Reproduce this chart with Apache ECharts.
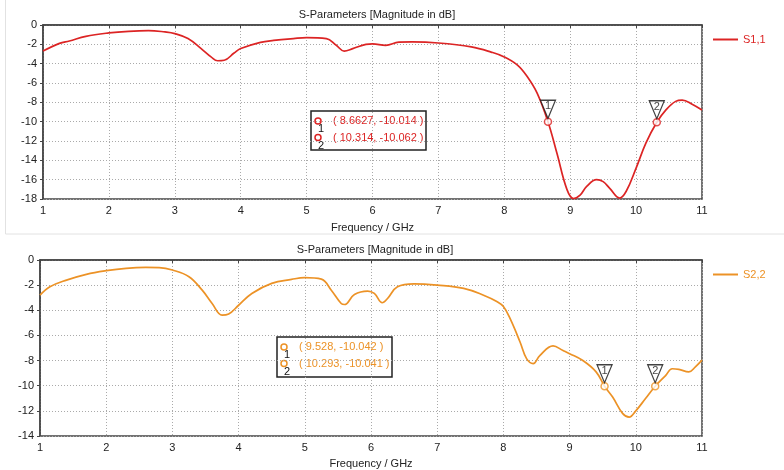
<!DOCTYPE html>
<html>
<head>
<meta charset="utf-8">
<script src="https://cdn.jsdelivr.net/npm/echarts@6/dist/echarts.min.js"></script>
<style>
  html, body { margin: 0; padding: 0; background: #fff; }
  #chart { width: 784px; height: 470px; }
</style>
</head>
<body>
<div id="chart"></div>
<script>
// S1,1 curve: [GHz, dB]
var s11 = [
  [1.0, -2.7], [1.25, -1.9], [1.4, -1.65], [1.65, -1.17], [2.0, -0.82], [2.3, -0.65],
  [2.6, -0.58], [2.85, -0.72], [3.0, -0.89], [3.2, -1.4], [3.4, -2.44], [3.55, -3.3],
  [3.65, -3.7], [3.75, -3.65], [3.9, -2.9], [4.0, -2.44], [4.3, -1.8], [4.5, -1.6],
  [4.8, -1.4], [5.0, -1.3], [5.3, -1.4], [5.45, -2.1], [5.57, -2.7], [5.7, -2.45],
  [5.9, -2.0], [6.0, -1.95], [6.2, -2.1], [6.4, -1.78], [6.6, -1.75], [7.0, -1.86],
  [7.5, -2.27], [7.8, -2.8], [8.0, -3.3], [8.2, -4.15], [8.35, -5.36], [8.5, -7.08],
  [8.6627, -10.014], [8.8, -13.3], [8.95, -17.0], [9.05, -17.95], [9.15, -17.6],
  [9.25, -16.7], [9.4, -16.0], [9.5, -16.2], [9.6, -16.9], [9.75, -17.9], [9.85, -17.2],
  [10.0, -14.8], [10.15, -12.2], [10.314, -10.062], [10.45, -8.8], [10.6, -7.9],
  [10.7, -7.77], [10.85, -8.2], [11.0, -8.8]
];
// S2,2 curve
var s22 = [
  [1.0, -2.8], [1.15, -2.13], [1.4, -1.6], [1.7, -1.14], [2.0, -0.85], [2.3, -0.66],
  [2.6, -0.59], [2.8, -0.61], [3.0, -0.8], [3.25, -1.33], [3.45, -2.4], [3.6, -3.46],
  [3.75, -4.39], [3.85, -4.3], [4.0, -3.6], [4.2, -2.66], [4.5, -1.86], [4.8, -1.54],
  [5.0, -1.4], [5.25, -1.52], [5.4, -2.4], [5.55, -3.46], [5.6, -3.54], [5.75, -2.74],
  [5.95, -2.47], [6.05, -2.66], [6.17, -3.4], [6.25, -3.06], [6.4, -2.13], [6.65, -1.9],
  [7.0, -2.0], [7.4, -2.26], [7.7, -2.8], [7.9, -3.3], [8.0, -3.7], [8.1, -4.65],
  [8.25, -6.5], [8.35, -7.85], [8.45, -8.25], [8.55, -7.6], [8.75, -6.83], [8.9, -7.2],
  [9.0, -7.45], [9.2, -8.0], [9.4, -8.9], [9.528, -10.042], [9.65, -10.9], [9.8, -12.2],
  [9.9, -12.5], [10.0, -12.0], [10.15, -11.0], [10.293, -10.041], [10.45, -9.2],
  [10.55, -8.65], [10.65, -8.7], [10.8, -8.9], [10.9, -8.5], [11.0, -7.97]
];
// markers
var markers11 = [[8.6627, -10.014], [10.314, -10.062]];
var markers22 = [[9.528, -10.042], [10.293, -10.041]];

var redColor = '#dc2424';
var orangeColor = '#ec9226';
var font = 'Liberation Sans, Arial, sans-serif';

function xAx(idx, gap) {
  return {
    type: 'value', gridIndex: idx, min: 1, max: 11, interval: 1,
    name: 'Frequency / GHz', nameLocation: 'middle', nameGap: gap,
    nameTextStyle: { color: '#222', fontSize: 11, fontFamily: font },
    axisLine: { lineStyle: { color: '#444', width: 1.5 } },
    axisTick: { show: true, length: 3, lineStyle: { color: '#444' } },
    axisLabel: { color: '#222', fontSize: 11, fontFamily: font, margin: 6 },
    splitLine: { show: true, lineStyle: { color: '#aaa', type: [1, 2] } }
  };
}
function yAx(idx, min) {
  return {
    type: 'value', gridIndex: idx, min: min, max: 0, interval: 2,
    axisLine: { show: true, lineStyle: { color: '#444', width: 1.5 } },
    axisTick: { show: true, length: 3, lineStyle: { color: '#444' } },
    axisLabel: { color: '#222', fontSize: 11, fontFamily: font, margin: 6 },
    splitLine: { show: true, lineStyle: { color: '#aaa', type: [1, 2] } }
  };
}

function markerSeries(data, color, idx) {
  return [{
    type: 'scatter', xAxisIndex: idx, yAxisIndex: idx, data: data, z: 5,
    symbol: 'circle', symbolSize: 7, silent: true,
    itemStyle: { color: '#fff', borderColor: color, borderWidth: 1.5 }
  }, {
    type: 'scatter', xAxisIndex: idx, yAxisIndex: idx, data: data, z: 6,
    symbol: 'path://M0,0 L14,0 L7,16 Z', symbolSize: [15, 18], symbolOffset: [0, -12.5],
    silent: true,
    itemStyle: { color: '#fff', borderColor: '#111', borderWidth: 1.3 },
    label: {
      show: true, position: 'inside', offset: [0, -3], color: '#111', fontSize: 11, fontFamily: font,
      formatter: function (p) { return String(p.dataIndex + 1); }
    }
  }];
}

// marker read-out box
function markerBox(data, color, x, y, w, h) {
  var children = [{
    type: 'rect', shape: { x: x, y: y, width: w, height: h },
    style: { fill: '#fff', stroke: '#222', lineWidth: 1.5 }
  }];
  for (var i = 0; i < data.length; i++) {
    var ty = y + 10 + i * 16.5;
    children.push({
      type: 'circle', shape: { cx: x + 7, cy: ty, r: 3 },
      style: { fill: '#fff', stroke: color, lineWidth: 1.5 }
    });
    children.push({
      type: 'text', x: x + 10, y: ty + 8,
      style: { text: String(i + 1), fill: '#111', font: '11px ' + font, align: 'center', verticalAlign: 'middle' }
    });
    children.push({
      type: 'text', x: x + 22, y: ty,
      style: { text: '( ' + data[i][0] + ', ' + data[i][1] + ' )', fill: color, font: '11px ' + font, verticalAlign: 'middle' }
    });
  }
  return { type: 'group', children: children };
}

var chart = echarts.init(document.getElementById('chart'));
var option = {
  backgroundColor: '#fff',
  animation: false,
  title: [
    { text: 'S-Parameters [Magnitude in dB]', left: 372, top: 4, textAlign: 'center',
      textStyle: { color: '#222', fontSize: 11, fontWeight: 'normal', fontFamily: font } },
    { text: 'S-Parameters [Magnitude in dB]', left: 370, top: 239, textAlign: 'center',
      textStyle: { color: '#222', fontSize: 11, fontWeight: 'normal', fontFamily: font } }
  ],
  legend: [
    { data: ['S1,1'], left: 708, top: 29, icon: 'rect', itemWidth: 25, itemHeight: 2, itemGap: 5,
      textStyle: { color: redColor, fontSize: 11, fontFamily: font } },
    { data: ['S2,2'], left: 708, top: 264, icon: 'rect', itemWidth: 25, itemHeight: 2, itemGap: 5,
      textStyle: { color: orangeColor, fontSize: 11, fontFamily: font } }
  ],
  grid: [
    { left: 43, top: 25, width: 659, height: 174, show: true, borderColor: '#444', borderWidth: 1.5, backgroundColor: '#fff' },
    { left: 40, top: 260, width: 662, height: 176, show: true, borderColor: '#444', borderWidth: 1.5, backgroundColor: '#fff' }
  ],
  xAxis: [xAx(0, 23), xAx(1, 22)],
  yAxis: [yAx(0, -18), yAx(1, -14)],
  series: [
    { name: 'S1,1', type: 'line', xAxisIndex: 0, yAxisIndex: 0, data: s11, smooth: 0.4,
      showSymbol: false, color: redColor, lineStyle: { width: 1.7 } },
    { name: 'S2,2', type: 'line', xAxisIndex: 1, yAxisIndex: 1, data: s22, smooth: 0.4,
      showSymbol: false, color: orangeColor, lineStyle: { width: 1.7 } }
  ].concat(markerSeries(markers11, redColor, 0), markerSeries(markers22, orangeColor, 1)),
  graphic: [
    { type: 'line', shape: { x1: 5.5, y1: 0, x2: 5.5, y2: 234 }, style: { stroke: '#e2e2e2', lineWidth: 1 } },
    { type: 'line', shape: { x1: 5.5, y1: 234, x2: 784, y2: 234 }, style: { stroke: '#e2e2e2', lineWidth: 1 } },
    markerBox(markers11, redColor, 311, 111, 115, 39),
    markerBox(markers22, orangeColor, 277, 337, 115, 40)
  ]
};
chart.setOption(option);
</script>
</body>
</html>
